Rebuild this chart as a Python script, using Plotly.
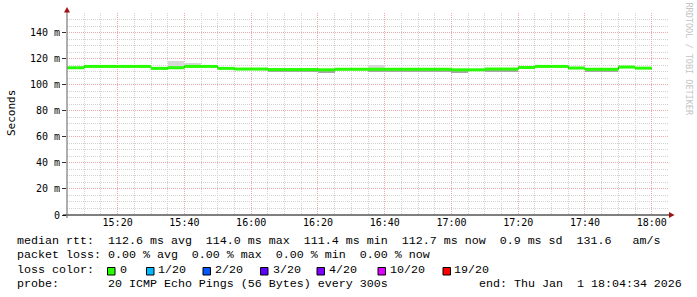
import pandas as pd
import plotly.graph_objects as go

# ---------------- data ----------------
graph_start = "2026-01-01 15:04:50"
graph_end = "2026-01-01 18:05:10"
bin_start = pd.date_range("2026-01-01 15:05", periods=35, freq="5min")
step_ms = 300000

median_ms = [113.0, 114.0, 114.0, 114.0, 114.0, 112.5, 113.0, 114.0, 114.0, 112.5,
             112.0, 112.0, 111.6, 111.6, 111.6, 111.4, 111.8, 111.8, 111.8, 111.8,
             111.8, 111.8, 111.8, 111.4, 111.4, 112.0, 112.0, 113.2, 114.0, 114.0,
             112.8, 111.8, 111.8, 113.5, 112.7]
smoke_hi_ms = [113.3, 114.3, 114.3, 114.3, 114.3, 112.8, 117.8, 117.0, 114.3, 112.8,
               112.3, 112.3, 111.9, 111.9, 111.9, 111.7, 112.1, 112.1, 114.8, 112.1,
               112.1, 112.1, 112.1, 111.7, 111.7, 112.3, 112.3, 113.5, 114.3, 114.3,
               113.1, 112.1, 112.1, 113.8, 113.0]
smoke_lo_ms = [112.7, 113.7, 113.7, 113.7, 113.7, 112.2, 112.7, 113.7, 113.7, 112.2,
               111.7, 111.7, 109.4, 109.4, 109.4, 109.2, 111.5, 111.5, 109.6, 109.7,
               109.7, 109.7, 109.7, 109.2, 111.1, 109.8, 109.8, 112.9, 113.7, 113.7,
               112.5, 109.6, 109.6, 113.2, 112.4]

y_tick_vals = [0, 20, 40, 60, 80, 100, 120, 140]
y_tick_text = ["0", "20 m", "40 m", "60 m", "80 m", "100 m", "120 m", "140 m"]

loss_labels = ["0", "1/20", "2/20", "3/20", "4/20", "10/20", "19/20"]
loss_colors = ["#26ff00", "#00b8ff", "#0059ff", "#5e00ff", "#7e00ff", "#dd00ff", "#ff0000"]

stats_line = "median rtt:  112.6 ms avg  114.0 ms max  111.4 ms min  112.7 ms now  0.9 ms sd  131.6   am/s"
loss_line = "packet loss: 0.00 % avg  0.00 % max  0.00 % min  0.00 % now"
probe_line = "probe:       20 ICMP Echo Pings (56 Bytes) every 300s"
end_line = "end: Thu Jan  1 18:04:34 2026"

# ---------------- geometry helpers (pixel -> paper) ----------------
L, R, T, B = 67, 669, 13, 215
PW, PH = R - L, B - T


def px(x):
    return (x - L) / PW


def py(y):
    return (B - y) / PH


MONO = "DejaVu Sans Mono"
LEG = "Liberation Mono"

centers = bin_start + pd.Timedelta(milliseconds=step_ms / 2)
bin_end = bin_start + pd.Timedelta(milliseconds=step_ms)

fig = go.Figure()

# smoke (upper light, lower darker)
fig.add_trace(go.Bar(
    x=centers, base=median_ms, y=[h - m for h, m in zip(smoke_hi_ms, median_ms)],
    width=step_ms, marker=dict(color="#d8d8d8", line=dict(width=0)), hoverinfo="skip"))
fig.add_trace(go.Bar(
    x=centers, base=smoke_lo_ms, y=[m - l for m, l in zip(median_ms, smoke_lo_ms)],
    width=step_ms, marker=dict(color="#a8a8a8", line=dict(width=0)), hoverinfo="skip"))

# thin dark median line (connectors)
fig.add_trace(go.Scatter(
    x=list(bin_start) + [bin_end[-1]], y=median_ms + [median_ms[-1]],
    mode="lines", line=dict(color="#202020", width=1, shape="hv"), hoverinfo="skip"))

# loss-coloured median band
seg_x, seg_y = [], []
for s, e, m in zip(bin_start, bin_end, median_ms):
    seg_x += [s, e, None]
    seg_y += [m, m, None]
fig.add_trace(go.Scatter(
    x=seg_x, y=seg_y, mode="lines", connectgaps=False,
    line=dict(color=loss_colors[0], width=3), hoverinfo="skip"))

major_grid = "#eeaaaa"
minor_grid = "#d2d2d2"

fig.update_layout(
    width=697, height=297,
    margin=dict(l=L, r=697 - R, t=T, b=297 - B),
    paper_bgcolor="white", plot_bgcolor="white",
    showlegend=False, barmode="overlay", bargap=0,
    xaxis=dict(
        type="date", range=[graph_start, graph_end],
        tick0="2026-01-01 15:00", dtick=1200000, tickformat="%H:%M",
        ticks="", showline=False, zeroline=False,
        showgrid=True, gridcolor=major_grid, griddash="1px,1px", gridwidth=1,
        minor=dict(dtick=300000, tick0="2026-01-01 15:00", showgrid=True,
                   gridcolor=minor_grid, griddash="1px,1px", gridwidth=1),
        tickfont=dict(family=MONO, size=10, color="black"),
        fixedrange=True,
    ),
    yaxis=dict(
        range=[0, 155], tickmode="array", tickvals=y_tick_vals, ticktext=y_tick_text,
        ticks="outside", ticklen=4, tickcolor="#303030", tickwidth=1,
        showline=False, zeroline=False,
        showgrid=True, gridcolor=major_grid, griddash="1px,1px", gridwidth=1,
        minor=dict(dtick=5, tick0=0, showgrid=True, gridcolor=minor_grid,
                   griddash="1px,1px", gridwidth=1),
        tickfont=dict(family=MONO, size=10, color="black"),
        fixedrange=True,
    ),
)

# axis lines and arrows
fig.add_shape(type="line", xref="paper", yref="paper",
              x0=px(63), x1=px(669), y0=py(215), y1=py(215),
              line=dict(color="black", width=1))
fig.add_shape(type="line", xref="paper", yref="paper",
              x0=px(67), x1=px(67), y0=py(218), y1=py(11),
              line=dict(color="#606060", width=1))
fig.add_shape(type="path", xref="paper", yref="paper",
              path=f"M {px(64)} {py(12.5)} L {px(70)} {py(12.5)} L {px(67)} {py(7)} Z",
              fillcolor="#a01010", line=dict(color="#a01010", width=0))
fig.add_shape(type="path", xref="paper", yref="paper",
              path=f"M {px(669)} {py(212)} L {px(669)} {py(218)} L {px(674.5)} {py(215)} Z",
              fillcolor="#a01010", line=dict(color="#a01010", width=0))


def ann(text, x, y, size, family=LEG, color="black", xanchor="left", angle=0):
    fig.add_annotation(
        text=text.replace(" ", "\u00a0"), x=px(x), y=py(y), xref="paper", yref="paper",
        xanchor=xanchor, yanchor="middle", showarrow=False, borderpad=0,
        textangle=angle, font=dict(family=family, size=size, color=color))


# y title and watermark
ann("Seconds", 11, 113, 11, family=MONO, xanchor="center", angle=-90)
ann("RRDTOOL / TOBI OETIKER", 688.5, 59, 8.5, family=MONO, color="#c4c4c4",
    xanchor="center", angle=90)

# legend / statistics rows
LS = 11.67
ann(stats_line, 16, 241, LS)
ann(loss_line, 16, 255, LS)
ann("loss color:", 16, 270, LS)
box_x = [107.5, 146.5, 203, 260.5, 317, 378, 443]
lab_x = [119, 157, 214, 272, 328, 389, 453]
for bx, lx, lab, col in zip(box_x, lab_x, loss_labels, loss_colors):
    fig.add_shape(type="rect", xref="paper", yref="paper",
                  x0=px(bx), x1=px(bx + 7.5), y0=py(275), y1=py(267.5),
                  fillcolor=col, line=dict(color="black", width=1))
    ann(lab, lx, 270, LS)
ann(probe_line, 16, 284, LS)
ann(end_line, 478, 284, LS)

fig.write_html("out.html")
